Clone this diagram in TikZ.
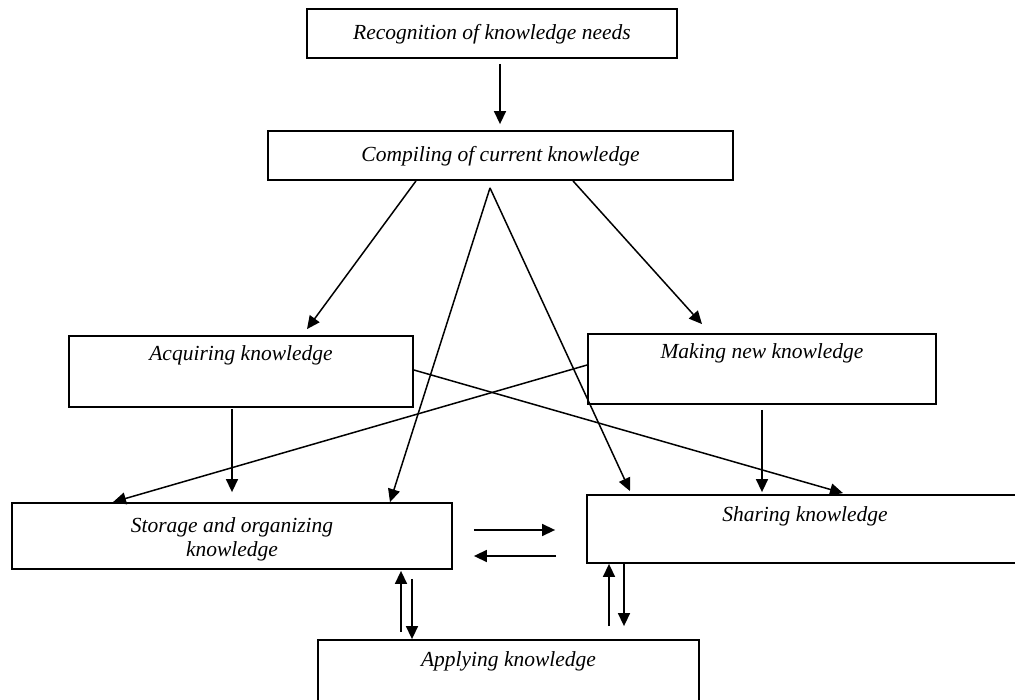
\documentclass[tikz,border=0pt]{standalone}
\usepackage{fontspec}
\setmainfont{Liberation Serif}
\usetikzlibrary{arrows.meta}
\tikzset{
  box/.style={draw, line width=1.8pt, rectangle, inner sep=0pt},
  txt/.style={font=\fontsize{21.5}{24}\selectfont\itshape, inner sep=0pt, align=center},
  toptxt/.style={txt, anchor=mid},
  arr/.style={line width=1.5pt, -{Triangle[length=13pt,width=12pt]}}
}
\begin{document}
\begin{tikzpicture}[x=1pt,y=-1pt]
\useasboundingbox (0,0) rectangle (1015,700);
\clip (0,0) rectangle (1015,700);
% boxes
\node[box, minimum width=370pt, minimum height=49pt] (rec) at (492,33.5) {};
\node[txt] (recT) at ([yshift=-1pt]rec.center) {Recognition of knowledge needs};
\node[box, minimum width=465pt, minimum height=49pt] (comp) at (500.5,155.5) {};
\node[txt] (compT) at ([yshift=-1pt]comp.center) {Compiling of current knowledge};
\node[box, minimum width=344pt, minimum height=71pt] (acq) at (241,371.5) {};
\node[toptxt] (acqT) at ([yshift=-23pt]acq.north) {Acquiring knowledge};
\node[box, minimum width=348pt, minimum height=70pt] (make) at (762,369) {};
\node[toptxt] (makeT) at ([yshift=-23pt]make.north) {Making new knowledge};
\node[box, minimum width=440pt, minimum height=66pt] (stor) at (232,536) {};
\node[txt] (storT) at ([yshift=-3pt]stor.center) {Storage and organizing\\knowledge};
\node[box, minimum width=436pt, minimum height=68pt] (share) at (805,529) {};
\node[toptxt] (shareT) at ([yshift=-25pt]share.north) {Sharing knowledge};
\node[box, minimum width=381pt, minimum height=72pt] (app) at (508.5,676) {};
\node[toptxt] (appT) at ([yshift=-25pt]app.north) {Applying knowledge};
% connectors
\draw[arr] ([xshift=8pt,yshift=-5pt]rec.south) -- ([xshift=-0.5pt,yshift=6pt]comp.north);
\draw[arr] ([xshift=-84.5pt]comp.south) -- ([xshift=66pt,yshift=6pt]acq.north);
\draw[arr] ([xshift=72.5pt]comp.south) -- ([xshift=-60pt,yshift=9pt]make.north);
\coordinate (apex) at ([xshift=-10.5pt,yshift=-7pt]comp.south);
\draw[arr] (apex) -- ([xshift=158pt]stor.north);
\draw[arr] (apex) -- ([xshift=-175pt,yshift=3pt]share.north);
\draw[arr] ([xshift=-9pt,yshift=-1pt]acq.south) -- ([yshift=10pt]stor.north);
\draw[arr] ([yshift=4pt]make.west) -- ([xshift=-119pt]stor.north);
\draw[arr] ([yshift=1.5pt]acq.east) -- ([xshift=38pt,yshift=1pt]share.north);
\draw[arr] ([yshift=-5pt]make.south) -- ([xshift=-43pt,yshift=2pt]share.north);
\draw[arr] ([xshift=21pt,yshift=6pt]stor.east) -- ([xshift=-31pt,yshift=-1pt]share.west);
\draw[arr] ([xshift=-30pt,yshift=-27pt]share.west) -- ([xshift=21pt,yshift=-20pt]stor.east);
\draw[arr] ([xshift=-107.5pt,yshift=7pt]app.north) -- ([xshift=169pt,yshift=-1pt]stor.south);
\draw[arr] ([xshift=180pt,yshift=-9pt]stor.south) -- ([xshift=-96.5pt]app.north);
\draw[arr] ([xshift=100.5pt,yshift=13pt]app.north) -- ([xshift=-196pt]share.south);
\draw[arr] ([xshift=-181pt]share.south) -- ([xshift=115.5pt,yshift=13pt]app.north);
\end{tikzpicture}
\end{document}
